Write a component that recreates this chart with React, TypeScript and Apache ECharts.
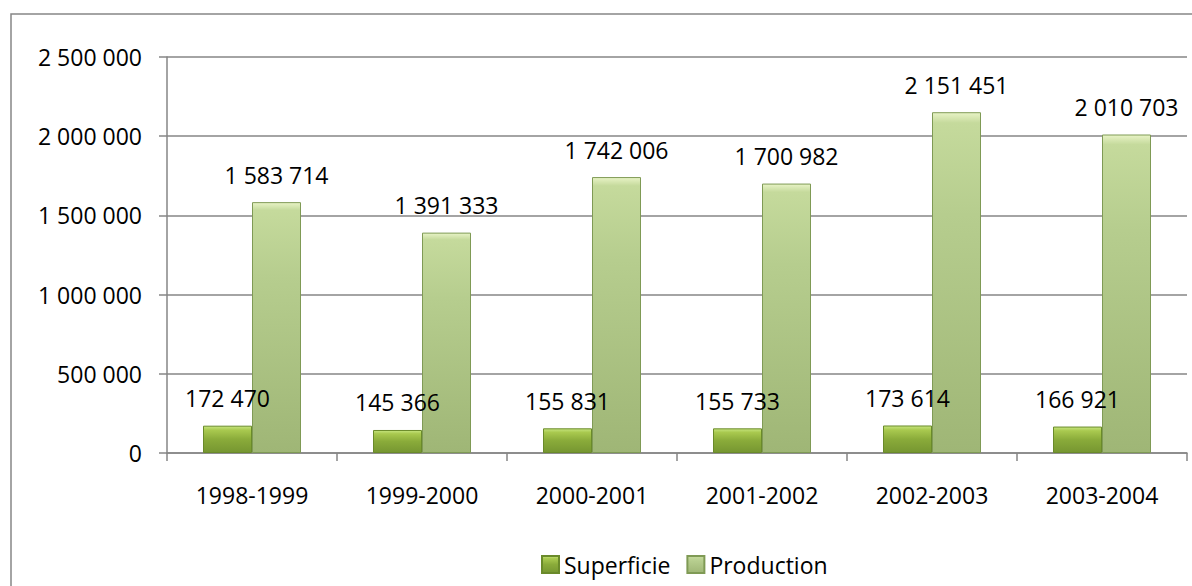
import React, { useEffect, useRef } from "react";
import * as echarts from "echarts";

const categories = ["1998-1999", "1999-2000", "2000-2001", "2001-2002", "2002-2003", "2003-2004"];
const superficie = [172470, 145366, 155831, 155733, 173614, 166921];
const production = [1583714, 1391333, 1742006, 1700982, 2151451, 2010703];
const seriesNames = ["Superficie", "Production"];

const fmt = (v: number) => String(Math.round(v)).replace(/\B(?=(\d{3})+(?!\d))/g, " ");

const FONT = "'Open Sans'";
const FS = 23;

export default function App() {
  const ref = useRef<HTMLDivElement>(null);
  useEffect(() => {
    if (!ref.current) return;
    const chart = echarts.init(ref.current, null, { renderer: "svg" });
    const grey = "#868686";
    const supColor = new echarts.graphic.LinearGradient(0, 0, 0, 1, [
      { offset: 0, color: "#c6e57f" },
      { offset: 0.15, color: "#a9c94f" },
      { offset: 0.5, color: "#8aab3a" },
      { offset: 1, color: "#769631" },
    ]);
    const prodColor = new echarts.graphic.LinearGradient(0, 0, 0, 1, [
      { offset: 0, color: "#e8f3c6" },
      { offset: 0.03, color: "#c5da9c" },
      { offset: 0.3, color: "#b6cd8e" },
      { offset: 1, color: "#9fb676" },
    ]);
    chart.setOption({
      animation: false,
      textStyle: { fontFamily: FONT },
      graphic: [
        {
          type: "rect",
          shape: { x: 11, y: 14, width: 1200, height: 600 },
          style: { fill: "none", stroke: grey, lineWidth: 1.5 },
          silent: true,
        },
      ],
      grid: { left: 167, top: 57, right: 5, bottom: 133, containLabel: false },
      legend: {
        data: seriesNames,
        left: 536,
        top: 548,
        icon: "rect",
        itemWidth: 17,
        itemHeight: 17,
        itemGap: 16,
        itemTextGap: 5,
        textStyle: { fontFamily: FONT, fontSize: FS, color: "#000" },
      },
      xAxis: {
        type: "category",
        data: categories,
        axisLine: { show: true, lineStyle: { color: grey, width: 1.5 } },
        axisTick: { show: true, length: 8, lineStyle: { color: grey, width: 1.5 } },
        axisLabel: { fontFamily: FONT, fontSize: FS, color: "#000", margin: 30 },
      },
      yAxis: {
        type: "value",
        min: 0,
        max: 2500000,
        interval: 500000,
        axisLine: { show: true, lineStyle: { color: grey, width: 1.5 } },
        axisTick: { show: true, length: 8, lineStyle: { color: grey, width: 1.5 } },
        splitLine: { show: true, lineStyle: { color: grey, width: 1.5 } },
        axisLabel: {
          fontFamily: FONT,
          fontSize: FS,
          color: "#000",
          margin: 25,
          formatter: (v: number) => fmt(v),
        },
      },
      series: [
        {
          name: seriesNames[0],
          type: "bar",
          data: superficie,
          barWidth: 49,
          barGap: "0%",
          itemStyle: { color: supColor, borderColor: "#6a8a2a", borderWidth: 1 },
          label: {
            show: true,
            position: "top",
            distance: 16,
            fontFamily: FONT,
            fontSize: FS,
            color: "#000",
            formatter: (p: any) => fmt(p.value),
          },
        },
        {
          name: seriesNames[1],
          type: "bar",
          data: production,
          barWidth: 49,
          barGap: "0%",
          itemStyle: { color: prodColor, borderColor: "#7f9a55", borderWidth: 1 },
          label: {
            show: true,
            position: "top",
            distance: 16,
            fontFamily: FONT,
            fontSize: FS,
            color: "#000",
            formatter: (p: any) => fmt(p.value),
          },
        },
      ],
    });
    return () => chart.dispose();
  }, []);
  return (
    <div
      ref={ref}
      style={{ position: "fixed", left: 0, top: 0, width: 1192, height: 586, background: "#fff" }}
    />
  );
}
